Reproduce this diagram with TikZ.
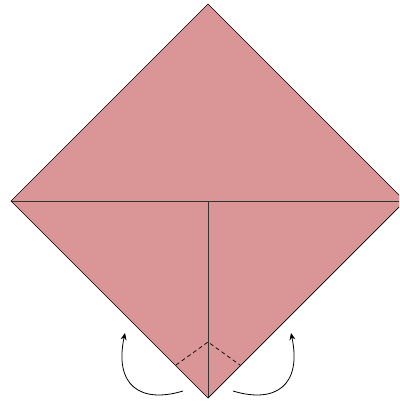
\documentclass[tikz,border=0pt]{standalone}
\usetikzlibrary{arrows.meta}
\definecolor{paper}{RGB}{218,150,150}
\tikzset{
  edge/.style={draw=black, line width=0.7pt},
  crease/.style={draw=black!80, line width=1pt},
  fold/.style={draw=black, line width=0.7pt, dash pattern=on 4pt off 3pt},
  turn/.style={draw=black, line width=0.8pt, -{Stealth[length=7pt,width=6pt]}}
}
\begin{document}
\begin{tikzpicture}[x=1pt,y=-1pt]
\useasboundingbox (0,0) rectangle (399,404);
\begin{scope}
\clip (0,0) rectangle (399,404);
\coordinate (T) at (208,4);
\coordinate (L) at (11,201);
\coordinate (R) at (405,201);
\coordinate (B) at (208,398);
\coordinate (C) at (208,201);
\fill[paper] (T) -- (R) -- (B) -- (L) -- cycle;
\draw[crease] (L) -- (R);
\draw[crease] (C) -- (B);
\coordinate (D) at (208,342);
\coordinate (DL) at (176,365);
\coordinate (DR) at (240,365);
\draw[fold] (DL) -- (D) -- (DR);
\draw[edge] (T) -- (R) -- (B) -- (L) -- cycle;
\coordinate (A1) at (183,391);
\coordinate (A1t) at (125,333);
\coordinate (A2) at (233,391);
\coordinate (A2t) at (291,333);
\draw[turn] (A1) .. controls (140,404) and (114,385) .. (A1t);
\draw[turn] (A2) .. controls (276,404) and (302,385) .. (A2t);
\end{scope}
\end{tikzpicture}
\end{document}
